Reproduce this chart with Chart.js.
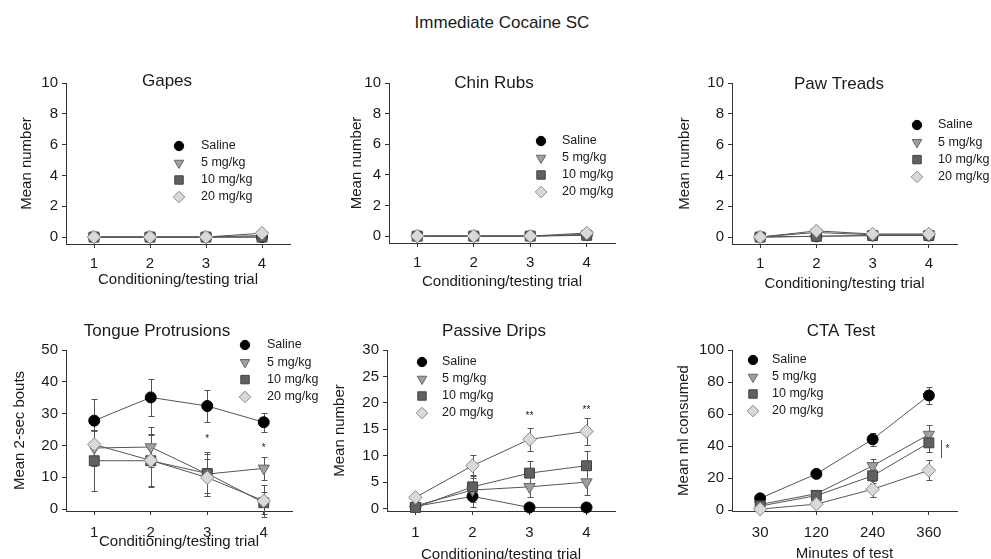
<!DOCTYPE html>
<html><head><meta charset="utf-8">
<script src="https://cdn.jsdelivr.net/npm/chart.js@4.4.1/dist/chart.umd.min.js"></script>
<style>
html,body{margin:0;padding:0;background:#fff;width:991px;height:559px;overflow:hidden;position:relative;font-family:"Liberation Sans",Arial,sans-serif}
#mainTitle{position:absolute;left:12px;width:980px;top:12px;text-align:center;font-size:17px;color:#1a1a1a;line-height:22px}
canvas{position:absolute}
</style></head><body>
<div id="mainTitle">Immediate Cocaine SC</div>
<canvas id="c1" width="330" height="240" style="left:0px;top:60px;width:330px;height:240px"></canvas>
<canvas id="c2" width="330" height="240" style="left:330px;top:60px;width:330px;height:240px"></canvas>
<canvas id="c3" width="331" height="240" style="left:660px;top:60px;width:331px;height:240px"></canvas>
<canvas id="c4" width="330" height="249" style="left:0px;top:310px;width:330px;height:249px"></canvas>
<canvas id="c5" width="330" height="249" style="left:330px;top:310px;width:330px;height:249px"></canvas>
<canvas id="c6" width="331" height="249" style="left:660px;top:310px;width:331px;height:249px"></canvas>
<script>
// ---------------- DATA ----------------
const seriesNames = ['Saline', '5 mg/kg', '10 mg/kg', '20 mg/kg'];
const trials = ['1', '2', '3', '4'];
const minutes = ['30', '120', '240', '360'];

const yTicksSmall = [0, 2, 4, 6, 8, 10];
const yTicksTongue = [0, 10, 20, 30, 40, 50];
const yTicksDrips = [0, 5, 10, 15, 20, 25, 30];
const yTicksCTA = [0, 20, 40, 60, 80, 100];

// Gapes (Saline, 5, 10, 20 mg/kg)
const gapesSaline = [0, 0, 0, 0];
const gapes5 = [0, 0, 0, 0.1];
const gapes10 = [0, 0, 0, 0];
const gapes20 = [0, 0, 0, 0.25];

// Chin Rubs
const chinSaline = [0, 0, 0, 0.1];
const chin5 = [0, 0, 0, 0.1];
const chin10 = [0, 0, 0, 0.05];
const chin20 = [0, 0, 0, 0.2];

// Paw Treads
const pawSaline = [0, 0.05, 0.1, 0.1];
const paw5 = [0, 0.3, 0.15, 0.15];
const paw10 = [0, 0.05, 0.1, 0.1];
const paw20 = [0, 0.4, 0.2, 0.2];

// Tongue Protrusions (means and SEM)
const tongueSaline = [27.8, 35.1, 32.4, 27.3];
const tongue5 = [19.2, 19.5, 11.0, 12.8];
const tongue10 = [15.2, 15.2, 11.2, 2.0];
const tongue20 = [20.3, 15.3, 9.9, 2.6];
const tongueSalineErr = [6.8, 5.9, 4.9, 3.0];
const tongue5Err = [5.5, 6.3, 7.0, 3.5];
const tongue10Err = [9.6, 8.4, 6.0, 3.5];
const tongue20Err = [4.5, 8.0, 5.7, 5.0];
const tongueSig = ['', '', '*', '*'];
const tongueSigY = [null, null, 21.8, 19.0];

// Passive Drips
const dripsSaline = [0.4, 2.3, 0.2, 0.2];
const drips5 = [0.5, 3.5, 4.1, 5.0];
const drips10 = [0.2, 4.1, 6.7, 8.1];
const drips20 = [2.1, 8.1, 13.1, 14.6];
const dripsSalineErr = [0.5, 2.0, 0.3, 0.3];
const drips5Err = [0.5, 2.2, 2.0, 2.4];
const drips10Err = [0.4, 2.2, 2.2, 2.8];
const drips20Err = [0.5, 2.0, 2.2, 2.5];
const dripsSig = ['', '', '**', '**'];
const dripsSigY = [null, null, 17.5, 18.6];

// CTA Test (ml consumed)
const ctaSaline = [7.3, 22.6, 44.2, 71.6];
const cta5 = [3.5, 10.2, 27.6, 47.2];
const cta10 = [2.5, 9.0, 21.4, 42.0];
const cta20 = [0.6, 3.7, 13.0, 24.8];
const ctaSalineErr = [1.5, 1.5, 4.2, 5.5];
const cta5Err = [1.2, 2.0, 4.6, 6.0];
const cta10Err = [1.0, 2.0, 4.5, 5.5];
const cta20Err = [0.8, 1.5, 5.0, 6.3];
const ctaBracket = [32.5, 43.8];
const ctaBracketText = '*';

// ---------------- STYLE ----------------
const FAM = '"Liberation Sans", Arial, sans-serif';
const TEXT = '#1a1a1a';
const AXIS = '#333333';
const LINE = '#555555';
const markerStyles = [
  { shape: 'circle', rot: 0, r: 5.5, fill: '#000000', stroke: '#000000' },
  { shape: 'triangle', rot: 180, r: 6.5, fill: '#a0a0a0', stroke: '#666666' },
  { shape: 'rect', rot: 0, r: 7, fill: '#606060', stroke: '#404040' },
  { shape: 'rectRot', rot: 0, r: 6.8, fill: '#d9d9d9', stroke: '#8a8a8a' }
];

const decor = {
  id: 'decor',
  beforeDatasetsDraw(chart, args, o) {
    const ctx = chart.ctx, xs = chart.scales.x, ys = chart.scales.y;
    ctx.save();
    ctx.strokeStyle = LINE; ctx.lineWidth = 1;
    chart.data.datasets.forEach(ds => {
      if (!ds.errors) return;
      ds.data.forEach((v, i) => {
        const e = ds.errors[i]; if (!e) return;
        const x = Math.round(xs.getPixelForValue(i)) + 0.5;
        const yt = Math.round(ys.getPixelForValue(v + e)) + 0.5;
        const yb = Math.round(ys.getPixelForValue(v - e)) + 0.5;
        ctx.beginPath();
        ctx.moveTo(x, yt); ctx.lineTo(x, yb);
        ctx.moveTo(x - 3, yt); ctx.lineTo(x + 3, yt);
        ctx.moveTo(x - 3, yb); ctx.lineTo(x + 3, yb);
        ctx.stroke();
      });
    });
    ctx.restore();
  },
  afterDraw(chart, args, o) {
    const ctx = chart.ctx, xs = chart.scales.x, ys = chart.scales.y;
    ctx.save();
    // panel title
    ctx.fillStyle = TEXT;
    ctx.font = '17px ' + FAM;
    ctx.textAlign = 'center'; ctx.textBaseline = 'middle';
    ctx.fillText(o.title.text, o.title.x, o.title.y);
    // legend
    const L = o.legend;
    seriesNames.forEach((name, k) => {
      const m = markerStyles[k];
      const y = L.y + k * L.dy;
      ctx.fillStyle = m.fill; ctx.strokeStyle = m.stroke; ctx.lineWidth = 1;
      Chart.helpers.drawPoint(ctx, { pointStyle: m.shape, rotation: m.rot, radius: m.r * 0.85, borderWidth: 1 }, L.x, y);
      ctx.fillStyle = TEXT;
      ctx.font = '12.5px ' + FAM;
      ctx.textAlign = 'left'; ctx.textBaseline = 'middle';
      ctx.fillText(name, L.tx, y);
    });
    // significance marks
    if (o.sig) {
      ctx.fillStyle = TEXT; ctx.font = '10px ' + FAM;
      ctx.textAlign = 'center'; ctx.textBaseline = 'middle';
      o.sig.text.forEach((t, i) => {
        if (!t) return;
        ctx.fillText(t, xs.getPixelForValue(i), ys.getPixelForValue(o.sig.y[i]));
      });
    }
    if (o.bracket) {
      const b = o.bracket;
      const x = Math.round(xs.getPixelForValue(b.index) + b.dx) + 0.5;
      ctx.strokeStyle = LINE; ctx.lineWidth = 1;
      ctx.beginPath();
      ctx.moveTo(x, ys.getPixelForValue(b.range[0]));
      ctx.lineTo(x, ys.getPixelForValue(b.range[1]));
      ctx.stroke();
      ctx.fillStyle = TEXT; ctx.font = '10px ' + FAM;
      ctx.textAlign = 'left'; ctx.textBaseline = 'middle';
      ctx.fillText(b.text, x + 4, ys.getPixelForValue((b.range[0] + b.range[1]) / 2));
    }
    ctx.restore();
  }
};

function makeDatasets(means, errs) {
  return means.map((d, k) => {
    const m = markerStyles[k];
    return {
      label: seriesNames[k], data: d, errors: errs ? errs[k] : null,
      borderColor: LINE, borderWidth: 1, fill: false, tension: 0,
      pointStyle: m.shape, pointRotation: m.rot, pointRadius: m.r,
      pointBackgroundColor: m.fill, pointBorderColor: m.stroke, pointBorderWidth: 1,
      order: 3 - k, clip: false
    };
  });
}

function makePanel(id, cfg) {
  const tickFont = { size: 15, family: FAM };
  new Chart(document.getElementById(id), {
    type: 'line',
    data: { labels: cfg.labels, datasets: makeDatasets(cfg.means, cfg.errs) },
    options: {
      responsive: false, animation: false, devicePixelRatio: 1,
      layout: { padding: { left: 0, right: cfg.padR, top: cfg.padT, bottom: 0 } },
      plugins: {
        legend: { display: false }, tooltip: { enabled: false },
        decor: { title: cfg.title, legend: cfg.legend, sig: cfg.sig, bracket: cfg.bracket }
      },
      scales: {
        x: {
          type: 'category', offset: true,
          grid: { display: true, drawOnChartArea: false, drawTicks: true, tickLength: 4, color: AXIS, offset: false },
          border: { display: true, color: AXIS, width: 1 },
          ticks: { color: TEXT, font: tickFont, padding: cfg.xTickPad, maxRotation: 0, autoSkip: false },
          title: { display: true, text: cfg.xTitle, color: TEXT, font: { size: 15, family: FAM }, padding: { top: 0, bottom: cfg.xTitlePad } },
          afterFit(s) { s.height = cfg.xH; }
        },
        y: {
          type: 'linear', min: cfg.yMin, max: cfg.yMax,
          afterBuildTicks(s) { s.ticks = cfg.yTicks.map(v => ({ value: v })); },
          grid: { display: true, drawOnChartArea: false, drawTicks: true, tickLength: 4, color: AXIS },
          border: { display: true, color: AXIS, width: 1 },
          ticks: { color: TEXT, font: tickFont, padding: 4, callback: v => String(v) },
          title: { display: true, text: cfg.yTitle, color: TEXT, font: { size: 15, family: FAM }, padding: { top: cfg.yTitlePad, bottom: 0 } },
          afterFit(s) { s.width = cfg.yW; }
        }
      }
    },
    plugins: [decor]
  });
}

makePanel('c1', {
  labels: trials, means: [gapesSaline, gapes5, gapes10, gapes20],
  yTicks: yTicksSmall, yMin: -0.45, yMax: 10,
  yW: 66, padR: 40, padT: 23, xH: 56, xTickPad: 7, xTitlePad: 11, yTitlePad: 18,
  xTitle: 'Conditioning/testing trial', yTitle: 'Mean number',
  title: { text: 'Gapes', x: 167, y: 21 },
  legend: { x: 179, y: 86, dy: 17, tx: 201 }
});
makePanel('c2', {
  labels: trials, means: [chinSaline, chin5, chin10, chin20],
  yTicks: yTicksSmall, yMin: -0.45, yMax: 10,
  yW: 59, padR: 45, padT: 23, xH: 57, xTickPad: 7, xTitlePad: 9, yTitlePad: 18,
  xTitle: 'Conditioning/testing trial', yTitle: 'Mean number',
  title: { text: 'Chin Rubs', x: 164, y: 23 },
  legend: { x: 211, y: 81, dy: 17, tx: 232 }
});
makePanel('c3', {
  labels: trials, means: [pawSaline, paw5, paw10, paw20],
  yTicks: yTicksSmall, yMin: -0.45, yMax: 10,
  yW: 72, padR: 34, padT: 23, xH: 56, xTickPad: 7, xTitlePad: 7, yTitlePad: 16,
  xTitle: 'Conditioning/testing trial', yTitle: 'Mean number',
  title: { text: 'Paw Treads', x: 179, y: 24 },
  legend: { x: 257, y: 65, dy: 17.3, tx: 278 }
});
makePanel('c4', {
  labels: trials, means: [tongueSaline, tongue5, tongue10, tongue20],
  errs: [tongueSalineErr, tongue5Err, tongue10Err, tongue20Err],
  yTicks: yTicksTongue, yMin: -0.6, yMax: 50,
  yW: 66, padR: 38, padT: 40, xH: 48, xTickPad: 9, xTitlePad: 8, yTitlePad: 11,
  xTitle: 'Conditioning/testing trial', yTitle: 'Mean 2-sec bouts',
  title: { text: 'Tongue Protrusions', x: 157, y: 21 },
  legend: { x: 245, y: 35, dy: 17.3, tx: 267 },
  sig: { text: tongueSig, y: tongueSigY }
});
makePanel('c5', {
  labels: trials, means: [dripsSaline, drips5, drips10, drips20],
  errs: [dripsSalineErr, drips5Err, drips10Err, drips20Err],
  yTicks: yTicksDrips, yMin: -0.47, yMax: 30,
  yW: 57, padR: 45, padT: 40, xH: 48, xTickPad: 9, xTitlePad: -5, yTitlePad: 1,
  xTitle: 'Conditioning/testing trial', yTitle: 'Mean number',
  title: { text: 'Passive Drips', x: 164, y: 21 },
  legend: { x: 92, y: 52, dy: 17, tx: 112 },
  sig: { text: dripsSig, y: dripsSigY }
});
makePanel('c6', {
  labels: minutes, means: [ctaSaline, cta5, cta10, cta20],
  errs: [ctaSalineErr, cta5Err, cta10Err, cta20Err],
  yTicks: yTicksCTA, yMin: -0.6, yMax: 100,
  yW: 72, padR: 34, padT: 40, xH: 48, xTickPad: 9, xTitlePad: -4, yTitlePad: 15,
  xTitle: 'Minutes of test', yTitle: 'Mean ml consumed',
  title: { text: 'CTA Test', x: 181, y: 21 },
  legend: { x: 93, y: 50, dy: 17, tx: 112 },
  bracket: { index: 3, dx: 12, range: ctaBracket, text: ctaBracketText }
});
</script>
</body></html>
